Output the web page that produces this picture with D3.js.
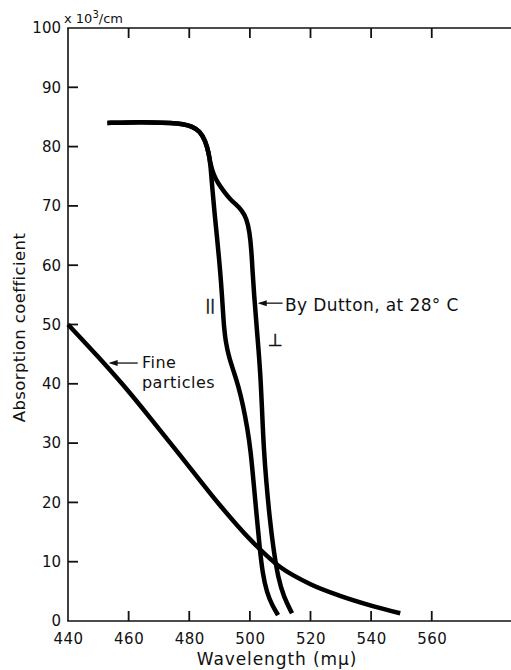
<!DOCTYPE html>
<html><head><meta charset="utf-8">
<script src="https://cdn.jsdelivr.net/npm/d3@7"></script>
<style>
html,body{margin:0;padding:0;background:#fff;}
svg{display:block;}
text{font-family:"DejaVu Sans",sans-serif;fill:#111;}
</style></head>
<body>
<svg id="c" width="511" height="670"></svg>
<script>
// ---- data ----
const xTicks = [440, 460, 480, 500, 520, 540, 560];
const yTicks = [0, 10, 20, 30, 40, 50, 60, 70, 80, 90, 100];
// common part of Dutton curve (before split)
const duttonCommon = [[453,84.0],[460,84.1],[468,84.1],[474,84.0],[478,83.8],[481,83.4],[483.5,82.6],[485.3,81.0],[486.4,79.0],[487.0,77.0]];
// parallel polarisation (||)
const duttonPar = [[487.0,77.0],[487.6,73.0],[488.3,69.0],[489.2,64.5],[490.1,59.7],[490.8,55.0],[491.3,50.5],[492.0,47.0],[493.2,44.3],[494.6,42.2],[496.2,39.6],[497.7,36.5],[499.2,32.5],[500.3,28.5],[501.2,23.5],[502.2,18.0],[503.2,12.5],[504.2,8.0],[505.6,4.8],[507.4,2.6],[509.3,1.0]];
// perpendicular polarisation (⊥)
const duttonPerp = [[487.0,77.0],[488.0,75.3],[489.5,73.8],[491.5,72.4],[493.5,71.1],[495.5,70.2],[497.3,69.3],[498.9,67.9],[499.9,65.6],[500.5,62.6],[500.9,58.8],[501.4,55.0],[502.1,50.5],[502.9,45.5],[503.6,40.5],[504.1,34.5],[504.6,29.0],[505.4,23.5],[506.5,17.5],[507.8,12.0],[509.3,7.3],[511.2,4.0],[513.9,1.3]];
// fine particles
const fineWl  = [440, 450, 460, 470, 480, 490, 500, 510, 520, 530, 540, 549.6];
const fineVal = [50.0, 44.5, 38.7, 32.4, 26.0, 19.6, 13.8, 9.1, 6.2, 4.2, 2.6, 1.3];

// ---- layout ----
const svg = d3.select("#c");
const x = d3.scaleLinear().domain([440, 600]).range([68, 553]);
const y = d3.scaleLinear().domain([0, 100]).range([621, 28]);

// axes lines
const axW = 1.6;
svg.append("line").attr("x1",x(440)).attr("x2",x(440)).attr("y1",y(100)).attr("y2",y(0)).attr("stroke","#111").attr("stroke-width",axW);
svg.append("line").attr("x1",x(440)-0.8).attr("x2",x(600)).attr("y1",y(0)).attr("y2",y(0)).attr("stroke","#111").attr("stroke-width",axW);
svg.append("line").attr("x1",x(440)-0.8).attr("x2",x(600)).attr("y1",y(100)).attr("y2",y(100)).attr("stroke","#111").attr("stroke-width",axW);

// bottom axis: inward ticks
const tickLen = 10;
const gB = svg.append("g").attr("transform",`translate(0,${y(0)})`)
  .call(d3.axisBottom(x).tickValues(xTicks).tickSize(0).tickPadding(12).tickFormat(d3.format("d")));
gB.select(".domain").remove();
gB.selectAll("text").attr("font-size",15).attr("font-family","DejaVu Sans").attr("fill","#111").attr("letter-spacing",0.5);
const inTicks = xTicks.filter(d => d > 440);
svg.selectAll(".bt").data(inTicks).enter().append("line")
  .attr("x1",d=>x(d)).attr("x2",d=>x(d)).attr("y1",y(0)).attr("y2",y(0)-tickLen)
  .attr("stroke","#111").attr("stroke-width",1.8);
svg.selectAll(".tt").data(inTicks).enter().append("line")
  .attr("x1",d=>x(d)).attr("x2",d=>x(d)).attr("y1",y(100)).attr("y2",y(100)+tickLen)
  .attr("stroke","#111").attr("stroke-width",1.8);

// left axis
const gL = svg.append("g").attr("transform",`translate(${x(440)},0)`)
  .call(d3.axisLeft(y).tickValues(yTicks).tickSize(0).tickPadding(7).tickFormat(d3.format("d")));
gL.select(".domain").remove();
gL.selectAll("text").attr("font-size",15).attr("font-family","DejaVu Sans").attr("fill","#111");
svg.selectAll(".lt").data(yTicks.filter(d => d > 0 && d < 100)).enter().append("line")
  .attr("x1",x(440)).attr("x2",x(440)+tickLen).attr("y1",d=>y(d)).attr("y2",d=>y(d))
  .attr("stroke","#111").attr("stroke-width",1.8);

// unit label
svg.append("text").attr("x",x(440)-4).attr("y",y(100)-5).attr("font-size",13).html('x 10<tspan dy="-5" font-size="10">3</tspan><tspan dy="5">/cm</tspan>');

// axis titles
svg.append("text").attr("x",277).attr("y",665).attr("text-anchor","middle").attr("font-size",17).attr("letter-spacing",0.9)
  .text("Wavelength (mμ)");
svg.append("text").attr("transform",`translate(25,${y(49.5)}) rotate(-90)`).attr("text-anchor","middle").attr("font-size",16.5).attr("letter-spacing",0.4)
  .text("Absorption coefficient");

// curves
const line = d3.line().x(d=>x(d[0])).y(d=>y(d[1])).curve(d3.curveBasis);
const lw = 4.5;
[duttonCommon.concat(duttonPar.slice(1)), duttonCommon.concat(duttonPerp.slice(1))].forEach(s => {
  svg.append("path").datum(s).attr("d",line).attr("fill","none").attr("stroke","#000")
    .attr("stroke-width",lw).attr("stroke-linecap","butt").attr("stroke-linejoin","round");
});
const fine = fineWl.map((w,i)=>[w, fineVal[i]]);
svg.append("path").datum(fine).attr("d",line.curve(d3.curveMonotoneX)).attr("fill","none").attr("stroke","#000")
  .attr("stroke-width",lw).attr("stroke-linecap","butt").attr("stroke-linejoin","round");

// annotations
function arrow(x0, x1, yv) {
  const py = y(yv);
  svg.append("line").attr("x1",x(x0)+2).attr("x2",x(x1)).attr("y1",py).attr("y2",py).attr("stroke","#111").attr("stroke-width",1.3);
  const tx = x(x0);
  svg.append("path").attr("d",`M${tx},${py} L${tx+9},${py-3} L${tx+9},${py+3} Z`).attr("fill","#111");
}
arrow(502.6, 510.8, 53.6);
svg.append("text").attr("x",x(511.6)).attr("y",y(52.3)).attr("font-size",17).attr("letter-spacing",0.4).text("By Dutton, at 28° C");
svg.append("text").attr("x",x(508.4)).attr("y",y(46.3)).attr("text-anchor","middle").attr("font-size",17)
  .attr("stroke","#111").attr("stroke-width",0.5).text("⊥");
svg.append("text").attr("x",x(486.9)).attr("y",y(52.4)).attr("text-anchor","middle").attr("font-size",14)
  .attr("stroke","#111").attr("stroke-width",0.5).text("||");

arrow(453.4, 463.0, 43.5);
svg.append("text").attr("x",x(464.4)).attr("y",y(42.6)).attr("font-size",16).attr("letter-spacing",0.5).text("Fine");
svg.append("text").attr("x",x(464.4)).attr("y",y(39.3)).attr("font-size",16).attr("letter-spacing",0.5).text("particles");
</script>
</body></html>
